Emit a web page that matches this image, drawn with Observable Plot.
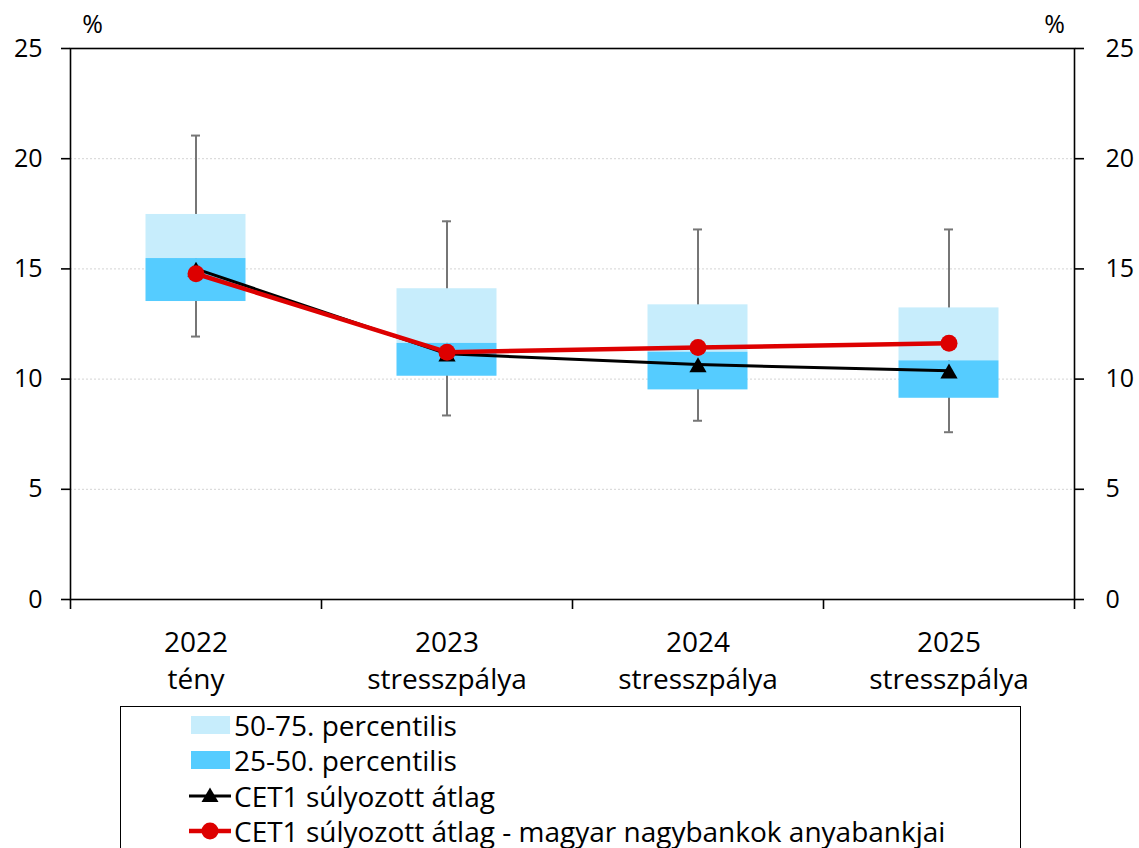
<!DOCTYPE html>
<html>
<head>
<meta charset="utf-8">
<script src="https://cdn.jsdelivr.net/npm/d3@7"></script>
<script src="https://cdn.jsdelivr.net/npm/@observablehq/plot@0.6"></script>
<style>
  html, body { margin: 0; padding: 0; background: #fff; overflow: hidden; }
  body { font-family: "Open Sans", Lato, sans-serif; width: 1139px; height: 848px; position: relative; }
  #chart { position: absolute; left: 0; top: 0; }
  #legend { position: absolute; left: 120px; top: 706px; width: 899px; height: 200px; border: 1.5px solid #000; background: #fff; }
  .lrow { position: absolute; left: 0; height: 38px; }
  .lrow svg { position: absolute; left: 68px; top: 0; }
  .lrow span { position: absolute; left: 113px; top: 0; line-height: 38px; font-size: 28px; color: #000; white-space: nowrap; }
</style>
</head>
<body>
<div id="chart"></div>
<div id="legend"></div>
<script>
// ---- data ----
const categories = ["2022\ntény", "2023\nstresszpálya", "2024\nstresszpálya", "2025\nstresszpálya"];
const pMin  = [11.93, 8.35, 8.11, 7.59];
const p25   = [13.52, 10.13, 9.51, 9.13];
const p50   = [15.47, 11.62, 11.22, 10.83];
const p75   = [17.47, 14.10, 13.37, 13.23];
const pMax  = [21.05, 17.16, 16.79, 16.79];
const cet1       = [15.00, 11.15, 10.66, 10.38];
const cet1Parent = [14.78, 11.22, 11.43, 11.63];
const yTicks = [0, 5, 10, 15, 20, 25];
const gridTicks = [5, 10, 15, 20];
const legendLabels = ["50-75. percentilis", "25-50. percentilis", "CET1 súlyozott átlag", "CET1 súlyozott átlag - magyar nagybankok anyabankjai"];

const LIGHT = "#C7EDFC", DARK = "#55CCFF", RED = "#DD0000", WHISK = "#767676";

const rows = categories.map((c, i) => ({
  c, min: pMin[i], q25: p25[i], q50: p50[i], q75: p75[i], max: pMax[i],
  cet1: cet1[i], parent: cet1Parent[i]
}));

const W = 1139, H = 703, ML = 70, MR = 65, MT = 48, MB = 104;
const bw = (W - ML - MR) / categories.length;
const boxInset = (bw - 100) / 2;
const capInset = (bw - 9) / 2;
const FONT = "'Open Sans', Lato, sans-serif";

const plot = Plot.plot({
  width: W, height: H,
  marginLeft: ML, marginRight: MR, marginTop: MT, marginBottom: MB,
  style: { fontFamily: FONT, background: "white", color: "black", overflow: "visible" },
  x: { domain: categories, padding: 0, label: null },
  y: { domain: [0, 25], label: null },
  marks: [
    Plot.ruleY(gridTicks, { stroke: "#d4d4d4", strokeWidth: 1, strokeDasharray: "2,2" }),
    Plot.ruleX(rows, { x: "c", y1: "min", y2: "max", stroke: WHISK, strokeWidth: 2 }),
    Plot.tickY(rows, { x: "c", y: "max", stroke: WHISK, strokeWidth: 2, insetLeft: capInset, insetRight: capInset }),
    Plot.tickY(rows, { x: "c", y: "min", stroke: WHISK, strokeWidth: 2, insetLeft: capInset, insetRight: capInset }),
    Plot.barY(rows, { x: "c", y1: "q50", y2: "q75", fill: LIGHT, insetLeft: boxInset, insetRight: boxInset }),
    Plot.barY(rows, { x: "c", y1: "q25", y2: "q50", fill: DARK, insetLeft: boxInset, insetRight: boxInset }),
    Plot.line(rows, { x: "c", y: "cet1", stroke: "black", strokeWidth: 3 }),
    Plot.dot(rows, { x: "c", y: "cet1", symbol: "triangle", r: 6.4, fill: "black", stroke: "none", dy: 2.7 }),
    Plot.line(rows, { x: "c", y: "parent", stroke: RED, strokeWidth: 4.5 }),
    Plot.dot(rows, { x: "c", y: "parent", r: 8.5, fill: RED, stroke: "none" }),
    Plot.frame({ stroke: "black", strokeWidth: 1.6 }),
    Plot.axisY(yTicks, { anchor: "left", tickSize: 9, tickPadding: 19, fontSize: 25, strokeWidth: 1.6, label: null }),
    Plot.axisY(yTicks, { anchor: "right", tickSize: 9, tickPadding: 22, fontSize: 25, strokeWidth: 1.6, label: null }),
    Plot.axisX({ anchor: "bottom", tickSize: 0, tickPadding: 26, fontSize: 28, lineHeight: 1.32, label: null }),
    Plot.ruleX(categories, { x: d => d, dx: -bw / 2, y1: 0, y2: 0, insetBottom: -10, stroke: "black", strokeWidth: 1.6 }),
    Plot.ruleX([categories[categories.length - 1]], { x: d => d, dx: bw / 2, y1: 0, y2: 0, insetBottom: -10, stroke: "black", strokeWidth: 1.6 }),
    Plot.text(["%"], { frameAnchor: "top-left", dx: 22, dy: -24, fontSize: 25, textAnchor: "middle", lineAnchor: "middle" }),
    Plot.text(["%"], { frameAnchor: "top-right", dx: -20, dy: -24, fontSize: 25, textAnchor: "middle", lineAnchor: "middle" })
  ]
});
document.getElementById("chart").appendChild(plot);

// ---- legend ----
const legend = document.getElementById("legend");
const swatches = [
  `<rect x="2" y="10" width="39" height="18" fill="${LIGHT}"/>`,
  `<rect x="2" y="10" width="39" height="18" fill="${DARK}"/>`,
  `<line x1="0" x2="42" y1="19" y2="19" stroke="black" stroke-width="3"/><path d="M21,10.5 L29.5,25 L12.5,25 Z" fill="black"/>`,
  `<line x1="0" x2="42" y1="19" y2="19" stroke="${RED}" stroke-width="4.5"/><circle cx="21" cy="19" r="8.5" fill="${RED}"/>`
];
legendLabels.forEach((lab, i) => {
  const row = document.createElement("div");
  row.className = "lrow";
  row.style.top = (-1.5 + i * 35.6) + "px";
  row.innerHTML = `<svg width="44" height="38">${swatches[i]}</svg><span>${lab}</span>`;
  legend.appendChild(row);
});
</script>
</body>
</html>
